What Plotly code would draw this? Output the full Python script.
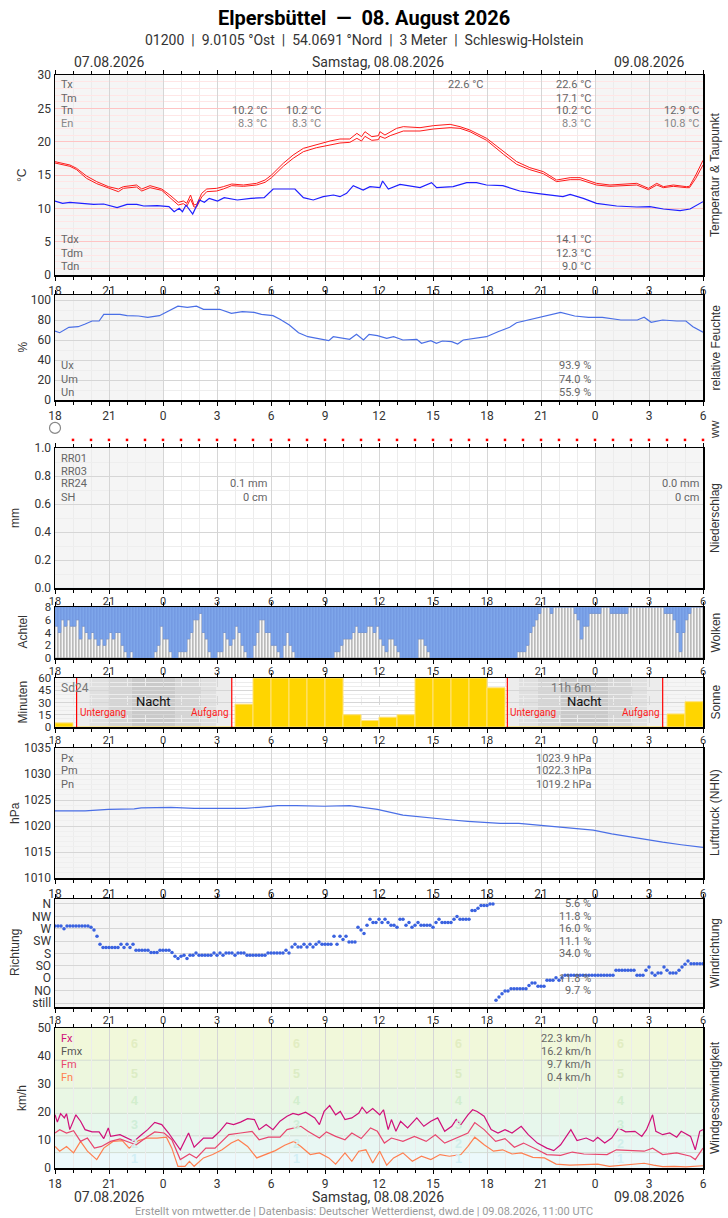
import plotly.graph_objects as go

# ---------------------------------------------------------------- data
# time axis: hours since 07.08. 18:00 UTC (0 .. 36)
hour_ticks = [0, 3, 6, 9, 12, 15, 18, 21, 24, 27, 30, 33, 36]
hour_text = ["18", "21", "0", "3", "6", "9", "12", "15", "18", "21", "0", "3", "6"]
other_day_spans = [(0, 6), (30, 36)]

# temperature (two sensors) and dew point
temp_hours = [0.0, 0.83, 1.2, 1.75, 2.32, 2.97, 3.52, 3.8, 4.53, 4.82, 5.28, 5.93, 6.38, 6.85,
              7.13, 7.32, 7.53, 7.72, 7.87, 8.15, 8.43, 8.98, 9.35, 9.82, 10.47, 11.2, 11.67,
              12.03, 12.68, 13.23, 13.8, 14.53, 15.28, 15.83, 16.38, 16.77, 17.03, 17.22, 17.6,
              17.97, 18.05, 18.33, 18.62, 18.98, 19.35, 20.28, 21.02, 21.95, 22.5, 23.05, 23.98,
              24.92, 25.65, 26.38, 27.13, 27.87, 28.62, 29.17, 30.08, 30.83, 31.57, 32.32, 32.97,
              33.43, 33.8, 34.35, 35.08, 35.25, 35.6, 36.0]
temp_a = [17.0, 16.5, 16.0, 14.85, 14.0, 13.25, 12.9, 13.25, 13.5, 12.9, 13.4, 12.9, 12.0, 10.9,
          11.1, 10.75, 12.0, 10.5, 10.6, 12.25, 12.9, 13.0, 13.25, 13.65, 13.5, 13.75, 14.25,
          15.0, 16.75, 18.0, 19.0, 19.6, 20.1, 20.4, 20.4, 21.25, 20.75, 21.5, 20.75,
          20.9, 21.5, 21.0, 21.5, 22.0, 22.25, 22.1, 22.4, 22.6, 22.25, 21.75, 20.5,
          18.5, 17.0, 16.1, 15.5, 14.25, 14.6, 14.6, 13.75, 13.5, 13.65, 13.75, 13.0,
          13.75, 13.25, 13.5, 13.25, 13.3, 15.0, 17.2]
temp_b = [16.8, 16.3, 15.8, 14.5, 13.7, 13.0, 12.5, 13.0, 13.2, 12.6, 13.1, 12.7, 11.6, 10.5,
          10.7, 10.3, 11.4, 10.2, 10.2, 11.7, 12.5, 12.6, 12.9, 13.4, 13.3, 13.5, 13.9,
          14.6, 16.3, 17.5, 18.5, 19.1, 19.5, 19.8, 19.9, 20.5, 20.1, 20.8, 20.2,
          20.3, 20.8, 20.5, 20.9, 21.3, 21.6, 21.6, 21.9, 22.1, 22.0, 21.5, 20.2,
          18.1, 16.6, 15.8, 15.2, 14.0, 14.3, 14.3, 13.5, 13.3, 13.4, 13.5, 12.8,
          13.5, 13.1, 13.3, 13.1, 13.1, 14.5, 16.5]

dew_hours = [0.0, 0.42, 0.83, 1.58, 2.15, 2.7, 3.45, 4.0, 4.55, 4.93, 5.68, 6.33, 6.62, 6.9, 7.08,
             7.28, 7.65, 8.02, 8.3, 8.57, 9.03, 9.4, 10.13, 10.88, 11.62, 12.12, 12.68, 13.33,
             13.8, 14.35, 14.9, 15.47, 15.83, 16.2, 16.57, 17.12, 17.5, 18.05, 18.2, 18.52, 19.17,
             20.28, 20.92, 21.2, 22.12, 22.87, 23.42, 23.97, 24.88, 25.82, 26.75, 27.67, 28.22,
             28.62, 29.35, 30.08, 31.2, 32.32, 33.05, 33.8, 34.73, 35.28, 35.65, 36.0]
dew_point = [11.1, 10.75, 10.9, 10.75, 10.6, 10.65, 10.1, 10.6, 10.6, 10.35, 10.4, 10.25, 9.5, 10.0,
             9.5, 10.5, 9.15, 11.25, 10.9, 11.5, 11.1, 11.6, 11.25, 11.5, 11.6, 12.9, 12.9, 12.9,
             11.6, 11.25, 11.75, 12.0, 11.75, 12.25, 13.4, 12.75, 13.25, 13.1, 14.1, 12.9, 13.6,
             13.1, 13.85, 13.1, 13.25, 13.85, 13.85, 13.5, 13.4, 12.6, 12.25, 12.0, 11.75,
             12.1, 11.5, 10.75, 10.35, 10.2, 10.25, 9.9, 9.65, 9.9, 10.5, 11.0]

# relative humidity
hum_hours = [0, 0.26, 0.77, 1.29, 1.68, 2.06, 2.45, 2.71, 3.61, 4.0, 4.64, 5.15, 5.8, 6.06, 6.44,
             6.83, 7.35, 7.86, 8.25, 9.15, 9.8, 10.41, 11.06, 11.47, 12.11, 12.5, 13.02, 13.53,
             14.05, 14.69, 15.21, 15.46, 15.98, 16.37, 16.75, 17.14, 17.45, 17.91, 18.43, 18.81,
             19.33, 20.1, 20.36, 20.88, 21.19, 21.52, 22.04, 22.37, 22.68, 23.45, 23.97, 24.61,
             25.26, 25.64, 26.29, 26.93, 27.58, 28.09, 28.87, 29.64, 30.41, 31.44, 32.35, 32.73,
             33.12, 33.76, 34.54, 35.05, 35.44, 36]
humidity = [69, 67.3, 72.7, 73.3, 76, 79, 79, 85.7, 85.7, 84.3, 84, 82.7, 84.3, 86.7, 90,
            93.9, 92.7, 93.9, 90.7, 90.7, 86.7, 88.3, 87.7, 85.7, 84.3, 80.7, 75, 67.3,
            63.3, 61, 59.3, 63.3, 61.7, 60.7, 65.7, 60, 65.7, 64.3, 61.7, 63.3,
            60, 60.7, 56.7, 59.3, 56.7, 59, 58.3, 55.9, 60, 62.3, 63.3, 68.3,
            72.7, 77.3, 80, 82.7, 86, 87.7, 84, 82.7, 82.7, 80, 80, 82.7,
            77.7, 80, 79, 79, 73.3, 67.7]

# present weather row
ww_symbol_hours = [0]
ww_dot_hours = list(range(1, 37))

# precipitation per hour (mm) - none measured
precip_mm = [0.0, 0.0, 0.0, 0.0, 0.0, 0.0, 0.0, 0.0, 0.0, 0.0, 0.0, 0.0, 0.0, 0.0, 0.0, 0.0, 0.0, 0.0,
             0.0, 0.0, 0.0, 0.0, 0.0, 0.0, 0.0, 0.0, 0.0, 0.0, 0.0, 0.0, 0.0, 0.0, 0.0, 0.0, 0.0, 0.0]

# cloud cover in octas, 10-minute values
cloud_octas = [5, 4, 6, 5, 6, 5, 5, 6, 3, 5, 4, 3, 4, 3, 2, 3, 2, 3, 4, 3, 4, 4, 2, 1,
               0, 1, 0, 0, 0, 0, 0, 0, 0, 1, 2, 5, 3, 3, 1, 0, 0, 1, 1, 1, 3, 4, 6, 6,
               7, 4, 3, 1, 0, 0, 1, 1, 4, 3, 2, 3, 5, 4, 2, 1, 0, 0, 2, 4, 6, 6, 4, 4,
               2, 2, 1, 0, 2, 4, 2, 1, 0, 0, 0, 0, 0, 0, 0, 0, 0, 0, 0, 0, 0, 1, 1, 2,
               3, 3, 3, 4, 5, 4, 4, 4, 5, 5, 4, 5, 3, 2, 1, 3, 3, 2, 1, 0, 0, 0, 0, 0,
               0, 3, 3, 2, 1, 0, 0, 0, 0, 0, 0, 0, 0, 0, 0, 0, 0, 0, 0, 0, 0, 0, 0, 0,
               0, 0, 0, 0, 0, 0, 0, 0, 0, 0, 1, 1, 1, 2, 4, 5, 6, 7, 8, 8, 8, 7, 8, 8,
               8, 8, 8, 8, 8, 7, 6, 3, 5, 5, 7, 7, 7, 7, 8, 8, 8, 7, 7, 7, 7, 7, 7, 8,
               8, 8, 8, 8, 8, 8, 8, 8, 8, 8, 8, 7, 7, 7, 6, 4, 1, 4, 6, 7, 8, 8, 8, 8]

# sunshine minutes per hour
sun_minutes = [5, 0, 0, 0, 0, 0, 0, 0, 0, 0, 28, 60, 60, 60, 60, 60, 15, 8,
               12, 15, 60, 60, 60, 60, 48, 0, 0, 0, 0, 0, 0, 0, 0, 0, 16, 31]
# sunset, twilight boundaries, sunrise for both nights
twilight = [[1.2, 1.91, 2.96, 4.26, 6.67, 8.15, 8.98, 9.82],
            [25.13, 25.77, 26.8, 28.1, 30.75, 32.1, 32.9, 33.76]]

# pressure
press_hours = [0, 1.67, 2.96, 4.4, 4.79, 5.93, 6.44, 7.73, 10.57, 11.34, 12.37, 13.4, 14.95,
               16.37, 17.91, 19.33, 20.62, 21.91, 22.94, 23.97, 24.74, 25.77, 26.93, 27.84,
               29.0, 29.9, 30.93, 31.96, 32.99, 33.76, 34.79, 36]
pressure = [1022.9, 1022.9, 1023.2, 1023.3, 1023.5, 1023.5, 1023.6, 1023.4, 1023.4, 1023.6,
            1023.9, 1023.9, 1023.8, 1023.9, 1023.2, 1022.1, 1021.6, 1021.2, 1020.9, 1020.7,
            1020.5, 1020.5, 1020.1, 1019.8, 1019.5, 1019.2, 1018.5, 1017.9, 1017.4, 1016.9,
            1016.4, 1015.9]

# wind direction (degrees, 0 = still), 10-minute values
wind_dir = [280, 280, 280, 270, 280, 280, 280, 280, 280, 280, 280, 280,
            275, 265, 243, 214, 202, 202, 202, 202, 202, 202, 214, 202,
            214, 202, 214, 192, 192, 192, 192, 192, 184, 184, 184, 192,
            192, 192, 192, 184, 170, 162, 170, 174, 162, 174, 174, 182,
            174, 174, 174, 174, 174, 182, 174, 182, 174, 182, 182, 182,
            174, 182, 182, 182, 174, 174, 174, 174, 174, 174, 174, 182,
            182, 182, 182, 182, 182, 192, 182, 204, 214, 204, 204, 214,
            204, 214, 204, 214, 222, 214, 214, 214, 214, 243, 214, 243,
            231, 243, 222, 222, 222, 275, 265, 253, 283, 304, 293, 293,
            304, 293, 304, 293, 283, 283, 275, 304, 304, 283, 293, 275,
            283, 293, 283, 283, 283, 283, 275, 293, 304, 293, 293, 293,
            293, 304, 314, 304, 304, 304, 304, 336, 336, 344, 354, 354,
            354, 360, 360, 10, 22, 34, 44, 44, 52, 52, 52, 52,
            52, 52, 64, 73, 73, 61, 61, 61, 83, 83, 83, 92,
            83, 92, 101, 101, 101, 101, 101, 101, 101, 101, 101, 101,
            101, 101, 101, 101, 101, 101, 101, 119, 119, 119, 119, 119,
            119, 119, 101, 101, 101, 119, 131, 109, 101, 109, 109, 131,
            119, 109, 109, 109, 119, 131, 141, 153, 143, 143, 143, 143, 143]
dir_ticks = [0, 45, 90, 135, 180, 225, 270, 315, 360]
dir_names = ["still", "NO", "O", "SO", "S", "SW", "W", "NW", "N"]
dir_share = {360: "5.6 %", 315: "11.8 %", 270: "16.0 %", 225: "11.1 %", 180: "34.0 %",
             90: "11.8 %", 45: "9.7 %"}

# wind speed (km/h)
fx_hours = [0.0, 0.13, 0.31, 0.52, 0.64, 0.82, 1.16, 1.42, 1.67, 2.06, 2.45, 2.71, 2.96, 3.09,
            3.61, 4.12, 4.38, 4.77, 5.15, 5.54, 5.93, 6.31, 6.65, 6.96, 7.42, 7.73, 8.25, 8.76,
            9.15, 9.54, 9.92, 10.31, 10.7, 11.08, 11.34, 11.73, 12.11, 12.5, 12.89, 13.22, 13.53,
            13.92, 14.43, 14.69, 14.95, 15.26, 15.59, 15.85, 16.11, 16.49, 16.88, 17.06, 17.32,
            17.65, 18.04, 18.25, 18.51, 18.69, 18.94, 19.2, 19.59, 20.1, 20.49, 20.88, 21.26,
            21.65, 22.04, 22.29, 22.55, 22.94, 23.2, 23.45, 23.84, 24.23, 24.61, 25.0, 25.39,
            25.9, 26.29, 26.8, 27.32, 27.71, 28.09, 28.66, 29.0, 29.51, 29.9, 30.15, 30.54,
            30.93, 31.31, 31.7, 32.22, 32.6, 32.86, 33.2, 33.38, 33.76, 34.15, 34.54, 34.79,
            35.31, 35.57, 35.82, 36.0]
fx_gust = [19, 16.4, 19.4, 17.9, 19.4, 13.7, 19, 16.7, 13.7, 12.9, 12.9, 10.5, 14.3, 11.3,
           11.9, 10.5, 9.5, 11.7, 13.7, 16.3, 15.5, 12.5, 9.5, 6.5, 12.5, 7.4, 10.7, 10.7,
           13.1, 16.1, 15.5, 16.4, 17.6, 17.3, 13.7, 15.5, 13.7, 16.7, 18.5, 19.5, 19,
           19.9, 17.9, 15.5, 20.2, 22.3, 19, 20.2, 17.3, 17.9, 19.6, 21.7, 19.6,
           21.2, 19, 20.8, 13.7, 17.3, 13.1, 16.7, 14.3, 17.9, 14.9, 16.7, 17.9,
           13.1, 14.9, 17.3, 15.5, 19, 20.8, 20.2, 18.5, 13.7, 12.5, 13.7, 12.5,
           14.9, 11.9, 8.9, 7.1, 6.2, 8.3, 13.7, 9.8, 10.7, 9.5, 11, 8.9,
           10.7, 14.3, 12.9, 13.1, 11.3, 13.7, 19, 13.1, 11.9, 12.5, 11, 13.1,
           11.3, 6.5, 13.1, 13.7]
fm_hours = [0, 0.26, 0.64, 1.03, 1.42, 1.8, 2.19, 2.58, 3.09, 3.61, 4.12, 4.51, 5.03, 5.54, 6.06,
            6.49, 6.96, 7.47, 7.86, 8.38, 8.89, 9.28, 9.66, 10.31, 10.95, 11.34, 11.86, 12.5,
            12.89, 13.66, 14.05, 14.69, 15.08, 15.59, 16.11, 16.49, 17.01, 17.53, 17.91, 18.3,
            18.69, 19.33, 19.97, 20.62, 21.13, 21.65, 22.29, 22.94, 23.32, 23.84, 24.48, 25.0,
            25.52, 26.03, 26.8, 27.32, 28.09, 28.74, 29.38, 30.03, 30.67, 31.19, 31.96, 32.73,
            33.2, 33.76, 34.54, 35.31, 35.57, 36]
fm_mean = [12.5, 13.7, 12.5, 13.3, 9.5, 10.7, 7.1, 7.7, 9.5, 10.4, 9.2, 8.3, 10.7, 12.9, 12.5,
           10.1, 3.0, 5, 3.6, 7.1, 7.1, 9.5, 11.9, 12.5, 13.1, 10.1, 11, 11,
           13.7, 14.9, 13.1, 10.7, 12.9, 11.3, 10.1, 12.5, 10.5, 14.3, 13.1, 8.9,
           10.7, 9.5, 11.3, 9.5, 11.9, 8.9, 10.7, 12.5, 16.2, 13.7, 9.5, 10.5,
           7.4, 8.9, 6.5, 4.8, 4.5, 5.7, 5, 5, 4.8, 6.5, 6.2, 6,
           7.1, 4.8, 5.4, 4.2, 3, 7.1]
fn_hours = [0, 0.26, 0.64, 1.03, 1.42, 1.8, 2.32, 2.71, 3.22, 3.74, 4.12, 4.64, 5.15, 5.67, 6.19,
            6.49, 6.83, 7.22, 7.47, 7.73, 8.25, 8.76, 9.28, 9.79, 10.18, 10.7, 11.21, 11.73,
            12.24, 12.76, 13.27, 13.66, 14.18, 14.69, 15.21, 15.59, 16.11, 16.49, 16.88, 17.27,
            17.65, 18.04, 18.43, 18.81, 19.33, 19.85, 20.36, 20.88, 21.39, 21.91, 22.55, 22.94,
            23.32, 23.84, 24.36, 24.87, 25.39, 25.9, 26.55, 27.19, 27.84, 28.61, 29.38, 30.15,
            30.8, 31.44, 32.22, 32.73, 33.25, 33.76, 34.41, 35.05, 36]
fn_min = [7.7, 6, 7.7, 5.4, 9.5, 6, 3, 7.1, 9.5, 9.8, 7.1, 9.8, 10.7, 10.7, 11,
          7.1, 0.6, 0.6, 2.4, 0.6, 3.6, 4.8, 6.5, 8.9, 10.1, 7.7, 3.6, 4.8,
          6.2, 8.1, 9.5, 7.7, 4.8, 5.4, 3.6, 1.4, 5.4, 2.4, 6, 6.5,
          1.8, 6, 1, 3.6, 5.4, 2.4, 4.2, 3, 4.8, 4.2, 4.8, 7.7,
          11, 8.3, 6, 6.5, 5, 5.4, 3.8, 3.6, 1.4, 1, 1.2, 1.4,
          0.6, 1, 1.4, 1.7, 1, 0.5, 0.6, 0.4, 0.8]
bft_edges = [0, 5.5, 11.5, 19.5, 28.5, 38.5, 50]
bft_names = ["1", "2", "3", "4", "5", "6"]
bft_label_hours = [4.43, 13.4, 22.4, 31.4]

# ---------------------------------------------------------------- layout helpers
W, H = 728, 1218
X0, X1 = 55, 703
FONT = "Liberation Sans Narrow, Arial Narrow, Roboto, sans-serif"
FONT_R = "Liberation Sans, Arial, DejaVu Sans, sans-serif"


def px(x):
    return x / W


def py(y):
    return 1 - y / H


# (top px, bottom px, y range, left title, right title)
panels = [
    (75, 275, [0, 30], "°C", "Temperatur & Taupunkt"),
    (295, 400, [0, 105], "%", "relative Feuchte"),
    (415, 445, [0, 1], "", "ww"),
    (448, 588, [0, 1.0], "mm", "Niederschlag"),
    (607, 658, [0, 8], "Achtel", "Wolken"),
    (678, 727, [0, 60], "Minuten", "Sonne"),
    (748, 878, [1010, 1035], "hPa", "Luftdruck (NHN)"),
    (899, 1007, [-14.5, 378], "Richtung", "Windrichtung"),
    (1028, 1168, [0, 50], "km/h", "Windgeschwindigkeit"),
]


def ax(i, kind):
    return kind if i == 1 else f"{kind}{i}"


layout = dict(width=W, height=H, autosize=False, margin=dict(l=0, r=0, t=0, b=0, autoexpand=False),
              paper_bgcolor="white", plot_bgcolor="white", showlegend=False,
              barmode="overlay", bargap=0)
annotations = []
shapes = []


def txt(x, y, s, size=11, color="#666", anchor="left", family=FONT, **kw):
    annotations.append(dict(x=px(x), y=py(y), xref="paper", yref="paper", text=s,
                            showarrow=False, xanchor=anchor, yanchor="middle",
                            font=dict(family=family, size=size, color=color), **kw))


for i, (top, bottom, rng, ltitle, rtitle) in enumerate(panels, start=1):
    xa = dict(domain=[px(X0), px(X1)], anchor=ax(i, "y"), range=[0, 36],
              tickmode="array", tickvals=hour_ticks, ticktext=hour_text,
              showgrid=True, gridcolor="#d6d6d6", zeroline=False,
              minor=dict(dtick=1, tick0=0, showgrid=True, gridcolor="#ececec",
                         ticks="outside", ticklen=3, tickcolor="#000"),
              ticks="outside", ticklen=4, tickcolor="#000",
              showline=True, linecolor="#000", linewidth=1.5, mirror="allticks",
              tickfont=dict(family=FONT, size=12, color="#333"), fixedrange=True)
    ya = dict(domain=[py(bottom), py(top)], anchor=ax(i, "x"), range=rng,
              showline=True, linecolor="#000", linewidth=1.5, mirror=True,
              zeroline=False, showgrid=True, gridcolor="#d6d6d6",
              tickfont=dict(family=FONT, size=12, color="#333"), fixedrange=True)
    if i == 3:
        xa = dict(domain=[px(X0), px(X1)], anchor="y3", range=[0, 36], visible=False)
        ya = dict(domain=[py(bottom), py(top)], anchor="x3", range=rng, visible=False)
    layout["xaxis" if i == 1 else f"xaxis{i}"] = xa
    layout["yaxis" if i == 1 else f"yaxis{i}"] = ya
    if ltitle:
        lx = 15 if ltitle in ("hPa", "Richtung", "mm") else 22
        txt(lx, (top + bottom) / 2, ltitle, size=12, color="#333", anchor="center",
            family=FONT_R, textangle=-90)
    txt(715, (top + bottom) / 2, rtitle, size=12, color="#333", anchor="center",
        family=FONT_R, textangle=-90)

# per-axis tuning
layout["yaxis"].update(dtick=5, gridcolor="#ffc4c4",
                       minor=dict(dtick=1, showgrid=True, gridcolor="#ffe6e6"))
layout["yaxis2"].update(tickvals=[0, 20, 40, 60, 80, 100],
                        minor=dict(dtick=10, showgrid=True, gridcolor="#eeeeee"))
layout["yaxis4"].update(tickvals=[0, 0.2, 0.4, 0.6, 0.8, 1.0],
                        ticktext=["0.0", "0.2", "0.4", "0.6", "0.8", "1.0"],
                        minor=dict(dtick=0.1, showgrid=True, gridcolor="#eeeeee"))
# panels that sit close to the next one: pull the hour labels a little up
for name in ("xaxis4", "xaxis5", "xaxis6", "xaxis8"):
    layout[name]["tickfont"]["size"] = 11
    layout[name].update(ticklabelstandoff=-2)
layout["yaxis5"].update(dtick=2, showgrid=False)
layout["yaxis5"]["tickfont"]["size"] = 11.5
layout["yaxis6"].update(tickvals=[0, 15, 30, 45, 60],
                        minor=dict(dtick=5, showgrid=True, gridcolor="#ececec"))
layout["yaxis6"]["tickfont"]["size"] = 11.5
layout["xaxis6"].update(griddash="dash")
layout["xaxis6"]["minor"].update(griddash="dash")
layout["yaxis7"].update(dtick=5, minor=dict(dtick=1, showgrid=True, gridcolor="#efefef"))
layout["yaxis8"].update(tickmode="array", tickvals=dir_ticks, ticktext=dir_names)
layout["yaxis9"].update(dtick=10, showgrid=False)

# ---------------------------------------------------------------- background shapes
bft_fill = ["#ecf9fb", "#e8f7f3", "#e7f7ec", "#e9f7e4", "#edf7de", "#f1f8da"]
for k in range(len(bft_names)):
    shapes.append(dict(type="rect", xref="x9", yref="y9", x0=0, x1=36,
                       y0=bft_edges[k], y1=bft_edges[k + 1], fillcolor=bft_fill[k],
                       line_width=0, layer="below"))
for e in bft_edges[1:-1]:
    shapes.append(dict(type="line", xref="x9", yref="y9", x0=0, x1=36, y0=e, y1=e,
                       line=dict(color="#d2ddd2", width=1), layer="below"))

for i in range(1, 10):
    if i in (3, 5):
        continue
    for a, b in other_day_spans:
        shapes.append(dict(type="rect", xref=ax(i, "x"), yref=ax(i, "y") + " domain",
                           x0=a, x1=b, y0=0, y1=1, fillcolor="rgba(0,0,0,0.04)",
                           line_width=0, layer="below"))

night_fill = ["#ececec", "#e0e0e0", "#d5d5d5", "#cacaca", "#d5d5d5", "#e0e0e0", "#ececec"]
for night in twilight:
    for k in range(len(night) - 1):
        shapes.append(dict(type="rect", xref="x6", yref="y6 domain", x0=night[k],
                           x1=night[k + 1], y0=0, y1=1, fillcolor=night_fill[k],
                           line_width=0, layer="below"))
    for t in (night[0], night[-1]):
        shapes.append(dict(type="line", xref="x6", yref="y6 domain", x0=t, x1=t, y0=0,
                           y1=1, line=dict(color="#ff0000", width=1.2), layer="above"))
    annotations.append(dict(x=night[0], y=0.14, xref="x6", yref="y6 domain", text="Untergang",
                            showarrow=False, xanchor="left", xshift=1,
                            font=dict(family=FONT, size=10, color="#ff2020")))
    annotations.append(dict(x=night[-1], y=0.14, xref="x6", yref="y6 domain", text="Aufgang",
                            showarrow=False, xanchor="right", xshift=-1,
                            font=dict(family=FONT, size=10, color="#ff2020")))
    annotations.append(dict(x=(night[3] + night[4]) / 2, y=0.52, xref="x6", yref="y6 domain",
                            text="Nacht", showarrow=False,
                            font=dict(family=FONT, size=13, color="#111")))

# ---------------------------------------------------------------- traces
fig = go.Figure()
fig.add_trace(go.Scatter(x=temp_hours, y=temp_b, mode="lines",
                         line=dict(color="#ff1a1a", width=1), xaxis="x", yaxis="y"))
fig.add_trace(go.Scatter(x=temp_hours, y=temp_a, mode="lines",
                         line=dict(color="#ff1a1a", width=1), xaxis="x", yaxis="y"))
fig.add_trace(go.Scatter(x=dew_hours, y=dew_point, mode="lines",
                         line=dict(color="#1f1fff", width=1.2), xaxis="x", yaxis="y"))

fig.add_trace(go.Scatter(x=hum_hours, y=humidity, mode="lines",
                         line=dict(color="#4a6fe6", width=1.2), xaxis="x2", yaxis="y2"))

fig.add_trace(go.Scatter(x=ww_symbol_hours, y=[0.57] * len(ww_symbol_hours), mode="markers",
                         marker=dict(symbol="circle-open", size=11, color="#888",
                                     line=dict(width=1.2)),
                         xaxis="x3", yaxis="y3", cliponaxis=False))
fig.add_trace(go.Scatter(x=ww_dot_hours, y=[0.17] * len(ww_dot_hours), mode="markers",
                         marker=dict(symbol="square", size=2.5, color="#ff0000"),
                         xaxis="x3", yaxis="y3", cliponaxis=False))

fig.add_trace(go.Bar(x=[h + 0.5 for h in range(len(precip_mm))], y=precip_mm, width=1,
                     marker=dict(color="#3070ff"), xaxis="x4", yaxis="y4"))

cloud_x = [i / 6 + 1 / 12 for i in range(len(cloud_octas))]
fig.add_trace(go.Bar(x=cloud_x, y=cloud_octas, width=1 / 6,
                     marker=dict(color="#f6f6f6", line=dict(color="#a6a6a6", width=1)),
                     xaxis="x5", yaxis="y5"))
fig.add_trace(go.Bar(x=cloud_x, y=[8 - v for v in cloud_octas], base=cloud_octas, width=1 / 6,
                     marker=dict(color="#7ea6ea", line=dict(color="#6b92dc", width=0.6)),
                     xaxis="x5", yaxis="y5"))

fig.add_trace(go.Bar(x=[h + 0.5 for h in range(len(sun_minutes))], y=sun_minutes, width=1,
                     marker=dict(color="#ffd500", line=dict(color="#ffe27a", width=1)),
                     xaxis="x6", yaxis="y6"))

fig.add_trace(go.Scatter(x=press_hours, y=pressure, mode="lines",
                         line=dict(color="#4a6fe6", width=1.2), xaxis="x7", yaxis="y7"))

fig.add_trace(go.Scatter(x=[i / 6 for i in range(len(wind_dir))], y=wind_dir, mode="markers",
                         marker=dict(color="#3a62e0", size=3.5), xaxis="x8", yaxis="y8"))

fig.add_trace(go.Scatter(x=fn_hours, y=fn_min, mode="lines",
                         line=dict(color="#ff7f50", width=1.2), xaxis="x9", yaxis="y9"))
fig.add_trace(go.Scatter(x=fm_hours, y=fm_mean, mode="lines",
                         line=dict(color="#e8466e", width=1.2), xaxis="x9", yaxis="y9"))
fig.add_trace(go.Scatter(x=fx_hours, y=fx_gust, mode="lines",
                         line=dict(color="#d0107a", width=1.2), xaxis="x9", yaxis="y9"))

# ---------------------------------------------------------------- texts
txt(364, 18, "<b>Elpersbüttel \u00a0—\u00a0 08. August 2026</b>", size=20, color="#000",
    anchor="center")
txt(364, 40, "01200 \u00a0|\u00a0 9.0105 °Ost \u00a0|\u00a0 54.0691 °Nord \u00a0|\u00a0 3 Meter"
             " \u00a0|\u00a0 Schleswig-Holstein", size=14, color="#333", anchor="center")
txt(109, 62, "07.08.2026", size=14, color="#333", anchor="center")
txt(378, 62, "Samstag, 08.08.2026", size=14, color="#333", anchor="center")
txt(649, 62, "09.08.2026", size=14, color="#333", anchor="center")
txt(109, 1197, "07.08.2026", size=14, color="#333", anchor="center")
txt(378, 1197, "Samstag, 08.08.2026", size=14, color="#333", anchor="center")
txt(649, 1197, "09.08.2026", size=14, color="#333", anchor="center")
txt(364, 1211, "Erstellt von mtwetter.de | Datenbasis: Deutscher Wetterdienst, dwd.de | "
               "09.08.2026, 11:00 UTC", size=11, color="#999", anchor="center")

# temperature
for lab, yy, c in [("Tx", 85, "#666"), ("Tm", 98, "#666"), ("Tn", 111, "#666"), ("En", 124, "#888"),
                   ("Tdx", 240, "#666"), ("Tdm", 253, "#666"), ("Tdn", 266, "#666")]:
    txt(59, yy, lab, color=c)
txt(485, 85, "22.6 °C", anchor="right")
for s, yy, c in [("22.6 °C", 85, "#666"), ("17.1 °C", 98, "#666"), ("10.2 °C", 111, "#666"),
                 ("8.3 °C", 124, "#888"), ("14.1 °C", 240, "#666"), ("12.3 °C", 253, "#666"),
                 ("9.0 °C", 266, "#666")]:
    txt(593, yy, s, anchor="right", color=c)
for xx in (269, 323):
    txt(xx, 111, "10.2 °C", anchor="right")
    txt(xx, 124, "8.3 °C", anchor="right", color="#888")
txt(701, 111, "12.9 °C", anchor="right")
txt(701, 124, "10.8 °C", anchor="right", color="#888")

# humidity
for lab, val, yy in [("Ux", "93.9 %", 365), ("Um", "74.0 %", 379), ("Un", "55.9 %", 392)]:
    txt(59, yy, lab)
    txt(593, yy, val, anchor="right")

# precipitation
for lab, yy in [("RR01", 458), ("RR03", 471), ("RR24", 484), ("SH", 497)]:
    txt(59, yy, lab)
txt(269, 484, "0.1 mm", anchor="right")
txt(269, 497, "0 cm", anchor="right")
txt(701, 484, "0.0 mm", anchor="right")
txt(701, 497, "0 cm", anchor="right")

# sunshine
txt(59, 688, "Sd24", size=12, color="#777")
txt(593, 688, "11h 6m", size=12, color="#777", anchor="right")

# pressure
for lab, val, yy in [("Px", "1023.9 hPa", 758), ("Pm", "1022.3 hPa", 771),
                     ("Pn", "1019.2 hPa", 784)]:
    txt(59, yy, lab)
    txt(593, yy, val, anchor="right")

# wind direction shares
for deg, s in dir_share.items():
    annotations.append(dict(x=px(593), y=deg, xref="paper", yref="y8", text=s, showarrow=False,
                            xanchor="right", font=dict(family=FONT, size=11, color="#666")))

# wind speed
for lab, val, yy, c in [("Fx", "22.3 km/h", 1038, "#d0107a"), ("Fmx", "16.2 km/h", 1051, "#555"),
                        ("Fm", "9.7 km/h", 1064, "#e8466e"), ("Fn", "0.4 km/h", 1077, "#ff7f50")]:
    txt(59, yy, lab, color=c)
    txt(593, yy, val, anchor="right")
bft_text = ["#d2eff5", "#d0eeea", "#cfeed8", "#d2eecd", "#dcecc4", "#e2edc2"]
for k, name in enumerate(bft_names):
    lo = max(bft_edges[k], 1)
    for h in bft_label_hours:
        annotations.append(dict(x=h, y=(lo + bft_edges[k + 1]) / 2, xref="x9", yref="y9",
                                text=f"<b>{name}</b>", showarrow=False,
                                font=dict(family=FONT_R, size=12.5, color=bft_text[k])))

layout["annotations"] = annotations
layout["shapes"] = shapes
fig.update_layout(**layout)
fig.write_html("out.html", config={"displayModeBar": False, "staticPlot": True},
               post_script="document.body.style.margin='0px';")
